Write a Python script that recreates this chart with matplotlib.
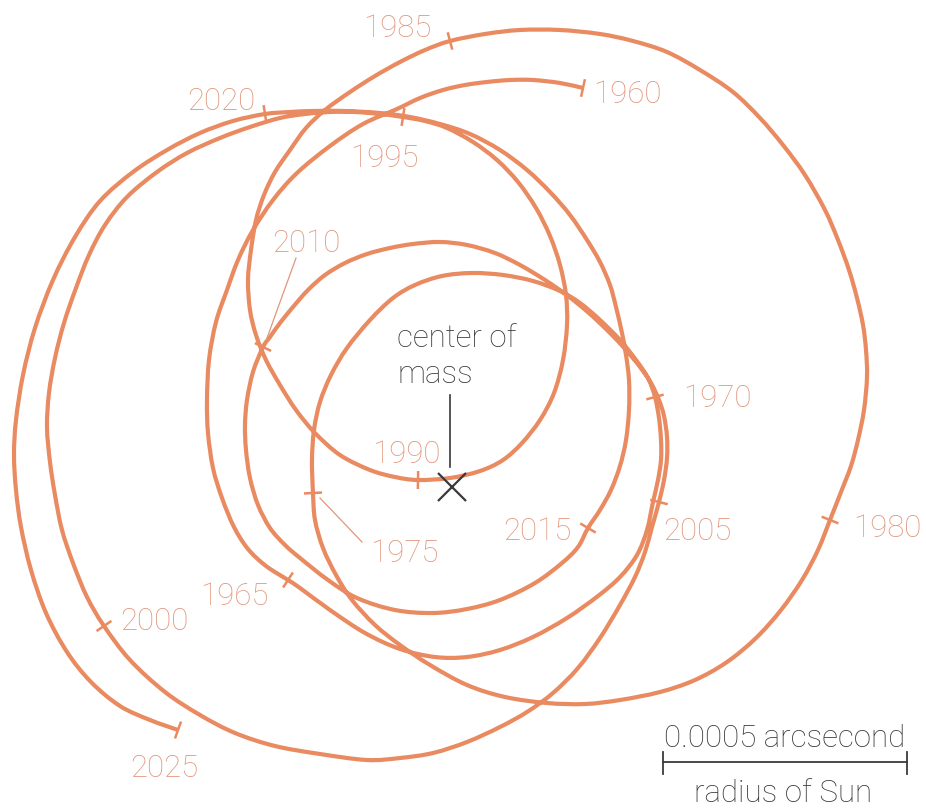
import matplotlib.pyplot as plt
import numpy as np
from matplotlib.path import Path
from matplotlib.patches import PathPatch

# Path of the Sun around the solar-system centre of mass, 1960-2025.
# Chart units: x to the right, y downward; one leg per five years.
leg_1960 = [(583, 88), (560, 83), (533, 80), (510, 80), (487, 82), (465, 85), (443, 90),
            (420, 98), (397, 109), (363, 124), (330, 146), (297, 173), (273, 200),
            (253, 230), (238, 260), (227, 290), (216, 322), (209, 360), (207, 400),
            (208, 433), (213, 468), (222, 498), (234, 527), (248, 549), (266, 566)]
leg_1965 = [(288, 580), (300, 588), (330, 610), (365, 633), (400, 649), (435, 657),
            (467, 657), (500, 650), (533, 637), (567, 618), (598, 596), (620, 577),
            (637, 555), (647, 530), (653, 502), (658, 480), (661, 460), (661, 440),
            (659, 418)]
leg_1970 = [(655, 397), (648, 378), (636, 360), (620, 340), (600, 320), (580, 303),
            (560, 291), (533, 281), (503, 275), (472, 273), (442, 276), (415, 285),
            (393, 298), (370, 320), (347, 348), (331, 375), (320, 402), (314, 430),
            (312, 460)]
leg_1975 = [(313, 493), (315, 520), (323, 548), (336, 575), (352, 600), (375, 625),
            (400, 645), (430, 665), (467, 685), (505, 697), (547, 703), (585, 704),
            (620, 700), (660, 692), (695, 680), (727, 662), (756, 638), (781, 610),
            (802, 580), (818, 550)]
leg_1980 = [(830, 520), (841, 492), (851, 466), (858, 440), (864, 410), (867, 377),
            (866, 350), (863, 325), (857, 298), (849, 270), (838, 240), (825, 210),
            (805, 175), (783, 145), (760, 118), (733, 92), (700, 70), (667, 52),
            (633, 41), (600, 34), (560, 30), (520, 30), (485, 34)]
leg_1985 = [(450, 41), (425, 50), (400, 62), (375, 76), (350, 92), (325, 110), (306, 128),
            (290, 150), (275, 172), (264, 195), (256, 220), (251, 250), (248, 280),
            (250, 310), (256, 335), (266, 360), (280, 385), (296, 410), (315, 433),
            (340, 455), (370, 470), (395, 477)]
leg_1990 = [(418, 480), (450, 478), (480, 471), (503, 460), (522, 443), (540, 420),
            (554, 393), (563, 360), (567, 325), (566, 295), (560, 265), (550, 236),
            (536, 208), (518, 182), (497, 160), (473, 142), (447, 128), (425, 121)]
leg_1995 = [(403, 117), (380, 114), (355, 112), (330, 112), (305, 114), (280, 118),
            (250, 127), (220, 138), (187, 153), (157, 172), (127, 197), (105, 225),
            (89, 255), (76, 288), (64, 323), (55, 358), (49, 393), (47, 427), (50, 462),
            (55, 495), (62, 530), (73, 563), (87, 597)]
leg_2000 = [(104, 626), (130, 660), (165, 692), (200, 715), (235, 733), (275, 746),
            (320, 754), (367, 760), (400, 758), (433, 753), (467, 742), (500, 727),
            (527, 712), (553, 693), (578, 668), (600, 638), (620, 605), (635, 577),
            (645, 552), (652, 527)]
leg_2005 = [(659, 502), (664, 480), (667, 458), (667, 437), (664, 416), (659, 400),
            (651, 383), (640, 367), (626, 350), (610, 333), (590, 314), (568, 296),
            (545, 280), (520, 265), (495, 253), (467, 245), (440, 242), (413, 244),
            (390, 248), (367, 254), (345, 263), (325, 275), (308, 290), (293, 307),
            (280, 323), (270, 337)]
leg_2010 = [(263, 347), (253, 372), (247, 400), (245, 425), (246, 450), (250, 478),
            (258, 505), (270, 528), (285, 545), (300, 558), (328, 580), (357, 598),
            (395, 610), (433, 613), (467, 609), (500, 600), (535, 583), (562, 563),
            (578, 547)]
leg_2015 = [(588, 528), (600, 510), (611, 490), (620, 466), (626, 440), (629, 410),
            (629, 380), (626, 355), (622, 333), (616, 307), (610, 285), (600, 262),
            (587, 240), (570, 215), (550, 192), (527, 170), (500, 150), (470, 134),
            (440, 124), (410, 117), (380, 113), (345, 111), (313, 111), (290, 112)]
leg_2020 = [(265, 114), (233, 121), (200, 133), (167, 150), (133, 172), (100, 201),
            (75, 237), (53, 280), (35, 328), (23, 375), (16, 420), (14, 455), (16, 490),
            (21, 527), (31, 570), (46, 613), (67, 652), (91, 682), (120, 706), (150, 720),
            (178, 730)]

legs = [leg_1960, leg_1965, leg_1970, leg_1975, leg_1980, leg_1985, leg_1990,
        leg_1995, leg_2000, leg_2005, leg_2010, leg_2015, leg_2020]
years = [1960, 1965, 1970, 1975, 1980, 1985, 1990, 1995, 2000, 2005, 2010, 2015, 2020, 2025]

# year label anchors (left edge, baseline)
label_x = [593, 200, 683, 370, 853, 363, 372, 350, 120, 663, 272, 503, 187, 130]
label_y = [103, 605, 407, 562, 537, 37, 463, 167, 630, 540, 252, 540, 110, 777]

LINE = '#E98A60'
LABEL = '#E2967C'
DARK = '#3A3A3A'
FONT = dict(family=['Roboto', 'DejaVu Sans'], fontweight='light', fontsize=22.5)

path = np.array([p for leg in legs for p in leg], dtype=float)
mark_idx = list(np.cumsum([0] + [len(leg) for leg in legs[:-1]])) + [len(path) - 1]


def smooth(pts):
    # Catmull-Rom style cubic Bezier segments through the traced points
    verts, codes = [pts[0]], [Path.MOVETO]
    n = len(pts)
    for i in range(n - 1):
        p0, p1 = pts[max(i - 1, 0)], pts[i]
        p2, p3 = pts[i + 1], pts[min(i + 2, n - 1)]
        verts += [p1 + (p2 - p0) / 6, p2 - (p3 - p1) / 6, p2]
        codes += [Path.CURVE4] * 3
    return Path(verts, codes)


fig = plt.figure(figsize=(9.26, 8.08), dpi=100)
ax = fig.add_axes([0, 0, 1, 1])
ax.set_xlim(0, 926)
ax.set_ylim(808, 0)
ax.set_aspect('equal')
ax.axis('off')

ax.add_patch(PathPatch(smooth(path), fill=False, edgecolor=LINE, lw=3.0,
                       joinstyle='round', capstyle='butt', zorder=2))

# short tick across the path at each five-year mark
for i in mark_idx:
    a = path[max(i - 1, 0)]
    b = path[min(i + 1, len(path) - 1)]
    d = (b - a) / np.hypot(*(b - a))
    n = np.array([-d[1], d[0]]) * 9
    p = path[i]
    ax.plot([p[0] - n[0], p[0] + n[0]], [p[1] - n[1], p[1] + n[1]],
            color=LINE, lw=1.8, solid_capstyle='butt', zorder=3)

for yr, lx, ly in zip(years, label_x, label_y):
    ax.text(lx, ly, str(yr), color=LABEL, ha='left', va='baseline', **FONT)

# leader lines for the crowded labels
ax.plot([296, 267], [258, 338], color=LABEL, lw=0.9)
ax.plot([320, 362], [498, 542], color=LABEL, lw=0.9)

# centre of mass
ax.plot([452], [487], marker='x', markersize=20, mew=1.6, color=DARK, zorder=4)
ax.plot([450, 450], [395, 467], color=DARK, lw=1.2)
ax.text(397, 347, 'center of', color=DARK, ha='left', va='baseline', **FONT)
ax.text(397, 383, 'mass', color=DARK, ha='left', va='baseline', **FONT)

# scale bar: one solar radius
ax.plot([663, 907], [762, 762], color=DARK, lw=1.3)
ax.plot([663, 663], [752, 774], color=DARK, lw=1.3)
ax.plot([907, 907], [752, 774], color=DARK, lw=1.3)
ax.text(785, 747, '0.0005 arcsecond', color=DARK, ha='center', va='baseline', **FONT)
ax.text(783, 802, 'radius of Sun', color=DARK, ha='center', va='baseline', **FONT)

fig.savefig('out.png', dpi=100, facecolor='white')
